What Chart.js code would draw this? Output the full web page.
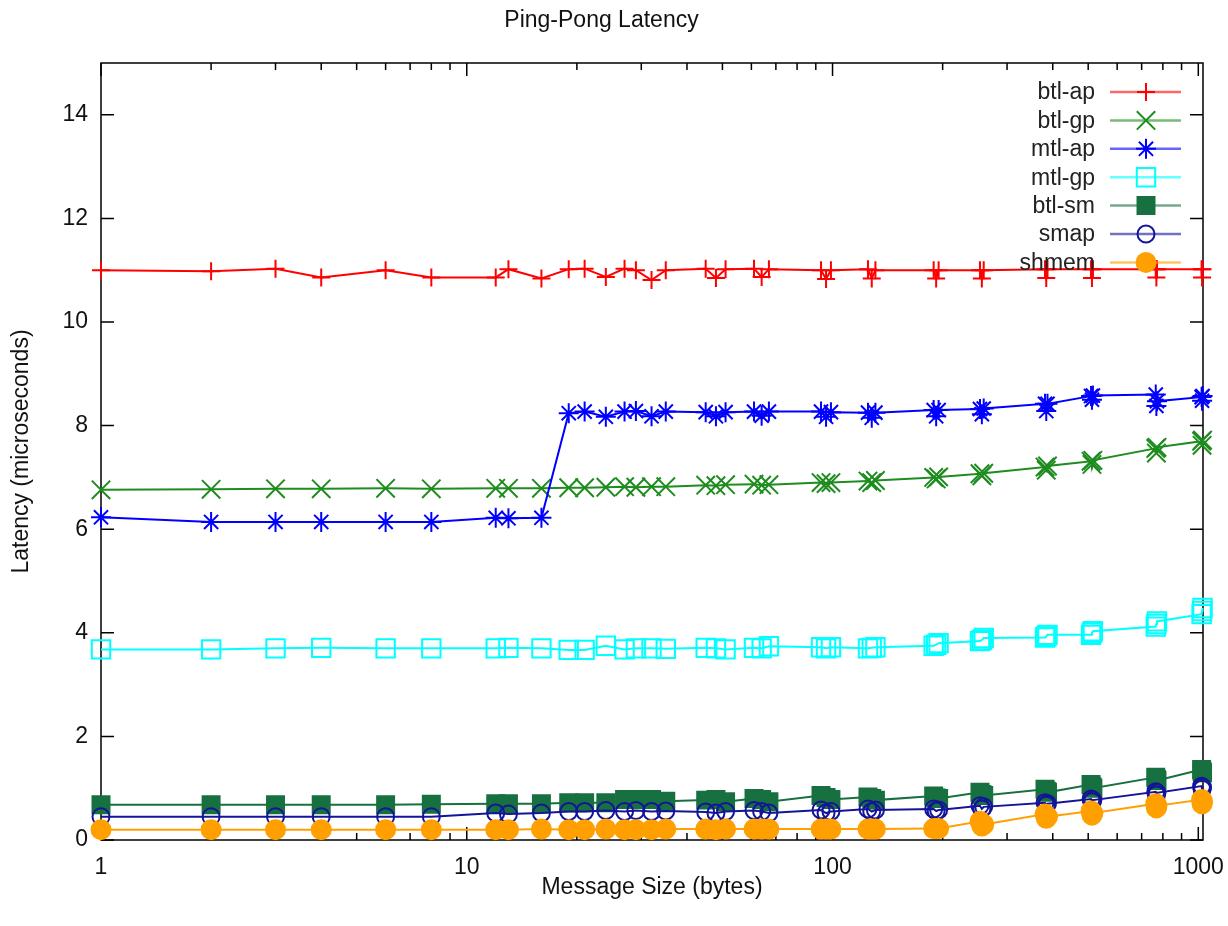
<!DOCTYPE html>
<html>
<head>
<meta charset="utf-8">
<title>Ping-Pong Latency</title>
<script src="https://cdn.jsdelivr.net/npm/chart.js@4.4.1/dist/chart.umd.min.js"></script>
<style>
  html, body { margin: 0; padding: 0; background: #fff; }
  #wrap { position: relative; width: 1228px; height: 926px; }
</style>
</head>
<body>
<div id="wrap"><canvas id="latency-chart"></canvas></div>
<script>
// message sizes in bytes (x axis)
const sizes = [1, 2, 3, 4, 6, 8, 12, 13, 16, 19, 21, 24, 27, 29, 32, 35, 45, 48, 51, 61, 64, 67,
  93, 96, 99, 125, 128, 131, 189, 192, 195, 253, 256, 259, 381, 384, 387, 509, 512, 515,
  765, 768, 771, 1021, 1024, 1027];

// latency in microseconds, one array per series
const btlAp = [11.00, 10.98, 11.03, 10.86, 11.00, 10.86, 10.86, 11.02, 10.84, 11.02, 11.03, 10.87,
  11.03, 11.00, 10.81, 11.00, 11.03, 10.85, 11.02, 11.03, 10.87, 11.02, 11.00, 10.83, 11.00,
  11.02, 10.84, 11.00, 11.00, 10.84, 11.00, 11.00, 10.84, 11.00, 11.02, 10.85, 11.02, 11.02,
  10.85, 11.02, 11.02, 10.86, 11.02, 11.02, 10.86, 11.02];
const btlGp = [6.76, 6.77, 6.78, 6.78, 6.79, 6.78, 6.79, 6.79, 6.79, 6.80, 6.80, 6.81, 6.82, 6.81,
  6.82, 6.82, 6.85, 6.84, 6.86, 6.87, 6.85, 6.86, 6.90, 6.88, 6.90, 6.93, 6.90, 6.94, 7.00, 6.97,
  7.01, 7.07, 7.03, 7.08, 7.20, 7.14, 7.22, 7.31, 7.25, 7.33, 7.56, 7.47, 7.58, 7.70, 7.62, 7.72];
const mtlAp = [6.23, 6.14, 6.14, 6.14, 6.14, 6.14, 6.22, 6.21, 6.22, 8.24, 8.27, 8.17, 8.27, 8.28,
  8.18, 8.27, 8.26, 8.18, 8.26, 8.27, 8.19, 8.27, 8.27, 8.17, 8.26, 8.25, 8.15, 8.25, 8.30, 8.18,
  8.30, 8.32, 8.22, 8.33, 8.42, 8.28, 8.42, 8.57, 8.50, 8.58, 8.60, 8.38, 8.47, 8.55, 8.48, 8.57];
const mtlGp = [3.68, 3.68, 3.70, 3.71, 3.70, 3.70, 3.70, 3.71, 3.70, 3.67, 3.67, 3.75, 3.68, 3.70,
  3.70, 3.69, 3.71, 3.70, 3.68, 3.71, 3.70, 3.74, 3.72, 3.70, 3.72, 3.70, 3.71, 3.72, 3.75, 3.77,
  3.80, 3.84, 3.86, 3.90, 3.91, 3.93, 3.96, 3.96, 4.00, 4.03, 4.12, 4.17, 4.22, 4.36, 4.42, 4.48];
const btlSm = [0.68, 0.68, 0.68, 0.68, 0.68, 0.69, 0.70, 0.70, 0.70, 0.72, 0.72, 0.72, 0.78, 0.78,
  0.78, 0.75, 0.77, 0.78, 0.74, 0.80, 0.78, 0.74, 0.86, 0.82, 0.78, 0.83, 0.80, 0.77, 0.85, 0.81,
  0.80, 0.92, 0.88, 0.86, 0.98, 0.94, 0.92, 1.07, 1.03, 1.00, 1.21, 1.17, 1.15, 1.36, 1.32, 1.30];
const smap = [0.45, 0.45, 0.45, 0.45, 0.45, 0.45, 0.52, 0.50, 0.52, 0.55, 0.55, 0.57, 0.55, 0.57,
  0.55, 0.56, 0.54, 0.52, 0.55, 0.57, 0.55, 0.52, 0.58, 0.52, 0.55, 0.60, 0.55, 0.58, 0.60, 0.56,
  0.58, 0.66, 0.60, 0.64, 0.72, 0.67, 0.70, 0.79, 0.74, 0.77, 0.93, 0.87, 0.91, 1.04, 0.98, 1.02];
const shmem = [0.20, 0.20, 0.20, 0.20, 0.20, 0.20, 0.20, 0.20, 0.21, 0.20, 0.20, 0.21, 0.20, 0.20,
  0.20, 0.21, 0.21, 0.20, 0.21, 0.21, 0.21, 0.21, 0.21, 0.21, 0.21, 0.21, 0.21, 0.21, 0.22, 0.22,
  0.22, 0.36, 0.27, 0.30, 0.50, 0.42, 0.45, 0.56, 0.48, 0.52, 0.70, 0.62, 0.66, 0.78, 0.70, 0.74];

const seriesNames = ['btl-ap', 'btl-gp', 'mtl-ap', 'mtl-gp', 'btl-sm', 'smap', 'shmem'];
const yTickValues = [0, 2, 4, 6, 8, 10, 12, 14];
const xTickLabels = [1, 10, 100, 1000];

const FONT = '"Liberation Sans", Arial, sans-serif';

function toPoints(values) {
  return sizes.map((x, i) => ({ x: x, y: values[i] }));
}

// one linespoints series, gnuplot style
function makeSeries(index, values, color, style, radius, filled) {
  return {
    label: seriesNames[index],
    data: toPoints(values),
    borderColor: color,
    borderWidth: 2,
    tension: 0,
    fill: false,
    pointStyle: style,
    pointRadius: radius,
    pointHoverRadius: radius,
    pointBorderWidth: 2,
    pointBorderColor: color,
    pointBackgroundColor: filled ? color : 'rgba(0,0,0,0)',
    clip: false,
    order: 10 - index
  };
}

// border and inward tick marks
const frameTicks = {
  id: 'frameTicks',
  beforeDatasetsDraw(chart) {
    const { ctx, chartArea: a, scales: { x, y } } = chart;
    ctx.save();
    ctx.strokeStyle = '#000';
    ctx.lineWidth = 1.5;
    ctx.beginPath();
    y.ticks.forEach(t => {
      if (!yTickValues.includes(t.value)) return;
      const py = y.getPixelForValue(t.value);
      ctx.moveTo(a.left, py); ctx.lineTo(a.left + 13, py);
      ctx.moveTo(a.right, py); ctx.lineTo(a.right - 13, py);
    });
    x.ticks.forEach(t => {
      const e = Math.floor(Math.log10(t.value) + 1e-9);
      const m = t.value / Math.pow(10, e);
      if (Math.abs(m - Math.round(m)) > 1e-6) return;
      const len = Math.round(m) === 1 ? 13 : 7;
      const px = x.getPixelForValue(t.value);
      ctx.moveTo(px, a.bottom); ctx.lineTo(px, a.bottom - len);
      ctx.moveTo(px, a.top); ctx.lineTo(px, a.top + len);
    });
    ctx.stroke();
    ctx.strokeRect(a.left, a.top, a.right - a.left, a.bottom - a.top);
    ctx.restore();
  }
};

// key in the top right corner: label, line sample, marker
const keyBox = {
  id: 'keyBox',
  afterDatasetsDraw(chart) {
    const ctx = chart.ctx;
    ctx.save();
    ctx.font = '23px ' + FONT;
    ctx.textAlign = 'right';
    ctx.textBaseline = 'middle';
    chart.data.datasets.forEach((ds, i) => {
      const y = 92 + i * 28.4;
      ctx.fillStyle = '#222';
      ctx.fillText(ds.label, 1095, y + 1);
      ctx.globalAlpha = 0.6;
      ctx.strokeStyle = ds.borderColor;
      ctx.lineWidth = 2.5;
      ctx.beginPath();
      ctx.moveTo(1110, y);
      ctx.lineTo(1181, y);
      ctx.stroke();
      ctx.globalAlpha = 1;
      ctx.lineWidth = ds.pointBorderWidth;
      ctx.fillStyle = ds.pointBackgroundColor;
      Chart.helpers.drawPoint(ctx, {
        pointStyle: ds.pointStyle,
        radius: ds.pointRadius,
        rotation: 0,
        borderWidth: ds.pointBorderWidth
      }, 1146, y);
    });
    ctx.restore();
  }
};

const chart = new Chart(document.getElementById('latency-chart').getContext('2d'), {
  type: 'line',
  data: {
    datasets: [
      makeSeries(0, btlAp, '#ff0000', 'cross', 9, false),
      makeSeries(1, btlGp, '#1e8c1e', 'crossRot', 13, false),
      makeSeries(2, mtlAp, '#0000ff', 'star', 10, false),
      makeSeries(3, mtlGp, '#00ffff', 'rect', 13, false),
      makeSeries(4, btlSm, '#17703f', 'rect', 12, true),
      makeSeries(5, smap, '#14149a', 'circle', 8.5, false),
      makeSeries(6, shmem, '#ffa000', 'circle', 9.5, true)
    ]
  },
  options: {
    responsive: true,
    maintainAspectRatio: false,
    animation: false,
    events: [],
    layout: { padding: { left: 0, right: 25, top: 0, bottom: 0 } },
    plugins: {
      legend: { display: false },
      tooltip: { enabled: false },
      title: {
        display: true,
        text: 'Ping-Pong Latency',
        color: '#111',
        font: { family: FONT, size: 23, weight: 'normal' },
        padding: { top: 7, bottom: 28.4 }
      }
    },
    scales: {
      x: {
        type: 'logarithmic',
        min: 1,
        max: 1030,
        grid: { display: false, drawTicks: false },
        border: { display: false },
        afterFit: s => { s.height = 86; },
        title: {
          display: true,
          text: 'Message Size (bytes)',
          color: '#111',
          font: { family: FONT, size: 23 },
          padding: { top: 0, bottom: 25 }
        },
        ticks: {
          autoSkip: false,
          maxRotation: 0,
          padding: 14,
          color: '#111',
          font: { family: FONT, size: 23 },
          callback: v => xTickLabels.includes(v) ? String(v) : ''
        }
      },
      y: {
        type: 'linear',
        min: 0,
        max: 15,
        grid: { display: false, drawTicks: false },
        border: { display: false },
        afterFit: s => { s.width = 101; },
        title: {
          display: true,
          text: 'Latency (microseconds)',
          color: '#111',
          font: { family: FONT, size: 23 },
          padding: { top: 8, bottom: 0 }
        },
        ticks: {
          stepSize: 2,
          includeBounds: false,
          padding: 13,
          color: '#111',
          font: { family: FONT, size: 23 },
          callback: v => yTickValues.includes(v) ? String(v) : ''
        }
      }
    }
  },
  plugins: [frameTicks, keyBox]
});
</script>
</body>
</html>
